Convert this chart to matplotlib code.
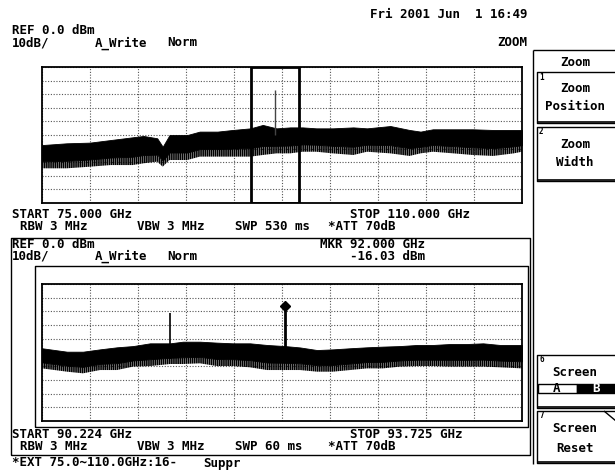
import numpy as np
import matplotlib
matplotlib.use('Agg')
import matplotlib.pyplot as plt
from matplotlib.patches import Rectangle

plt.rcParams['font.family'] = ['DejaVu Sans Mono']
plt.rcParams['font.weight'] = 'bold'
plt.rcParams['hatch.linewidth'] = 1.2

top_start, top_stop = 75.000, 110.000
top_freq = [75.0, 76.8, 78.5, 80.0, 81.6, 82.4, 83.4, 83.8, 84.3, 85.6, 86.5,
            87.8, 88.9, 90.2, 91.1, 92.1, 93.1, 94.0, 95.0, 96.2, 97.7, 98.7,
            100.4, 101.8, 102.6, 103.5, 105.0, 106.4, 107.9, 109.4, 110.0]
top_upper = [-57.4, -56.1, -55.6, -53.7, -51.7, -50.7, -52.4, -58.6, -50.0, -50.0, -47.5,
             -47.5, -46.3, -45.1, -42.6, -45.1, -44.4, -44.4, -45.1, -45.1, -44.4, -45.1,
             -43.4, -46.3, -47.5, -45.8, -45.8, -45.8, -46.3, -46.3, -46.3]
top_lower = [-74.5, -74.5, -73.3, -72.1, -72.1, -70.8, -69.6, -73.3, -68.4, -68.4, -65.9,
             -65.9, -65.9, -65.9, -64.7, -63.5, -63.5, -62.3, -62.3, -63.5, -64.7, -62.3,
             -63.5, -65.4, -63.5, -62.3, -63.5, -64.7, -65.4, -63.5, -62.3]
top_spike_freq = [92.0]
top_spike_level = [-16.9]

bot_start, bot_stop = 90.224, 93.725
bot_freq = [90.224, 90.406, 90.523, 90.647, 90.771, 90.888, 91.012, 91.158, 91.252, 91.376,
            91.500, 91.617, 91.741, 91.865, 91.996, 92.106, 92.230, 92.347, 92.471, 92.594,
            92.711, 92.835, 92.959, 93.076, 93.200, 93.324, 93.441, 93.565, 93.725]
bot_upper = [-46.9, -49.4, -49.4, -47.7, -46.2, -45.3, -43.3, -43.3, -42.1, -42.1,
             -42.8, -43.3, -43.3, -44.5, -45.3, -46.3, -48.2, -47.7, -46.9, -46.2,
             -45.7, -45.3, -44.5, -44.5, -43.8, -43.8, -43.3, -44.5, -44.5]
bot_lower = [-61.6, -64.0, -65.2, -62.8, -62.8, -60.3, -59.9, -58.4, -58.4, -57.9,
             -59.9, -59.9, -60.8, -62.8, -62.8, -62.8, -64.0, -64.0, -62.8, -61.6,
             -61.6, -60.3, -59.9, -59.9, -60.3, -60.3, -60.3, -60.8, -61.6]
bot_spike_freq = [91.158, 92.000]
bot_spike_level = [-21.4, -16.03]
mkr_freq = 92.000
mkr_level = -16.03

W, H = 615, 470
fig = plt.figure(figsize=(W / 100, H / 100), dpi=100)


def box(x0, y0, x1, y1):
    # pixel (origine in alto a sinistra) -> frazione della figura
    return [x0 / W, 1 - y1 / H, (x1 - x0) / W, (y1 - y0) / H]


# asse di sfondo in pixel per testi e cornici
bg = fig.add_axes([0, 0, 1, 1])
bg.set_xlim(0, W)
bg.set_ylim(H, 0)
bg.axis('off')


def txt(x, y, s, ha='left', size=9, color='black'):
    bg.text(x, y, s, ha=ha, va='center', fontsize=size, color=color)


def line(xs, ys, lw=1.0):
    bg.plot(xs, ys, color='black', lw=lw, solid_capstyle='butt')


# intestazione
txt(527, 15, 'Fri 2001 Jun  1 16:49', ha='right')
txt(12, 30, 'REF 0.0 dBm')
txt(12, 43, '10dB/')
txt(95, 43, 'A_Write')
txt(167, 43, 'Norm')
txt(527, 43, 'ZOOM', ha='right')
txt(12, 215, 'START 75.000 GHz')
txt(350, 215, 'STOP 110.000 GHz')
txt(20, 227, 'RBW 3 MHz')
txt(137, 227, 'VBW 3 MHz')
txt(235, 227, 'SWP 530 ms')
txt(328, 227, '*ATT 70dB')

# schermo B
line([11, 11, 530, 530, 11], [455, 238, 238, 455, 455])
line([35, 35, 528, 528, 35], [427, 266, 266, 427, 427])
txt(12, 244, 'REF 0.0 dBm')
txt(12, 256, '10dB/')
txt(95, 256, 'A_Write')
txt(167, 256, 'Norm')
txt(320, 244, 'MKR 92.000 GHz')
txt(350, 256, '-16.03 dBm')
txt(12, 435, 'START 90.224 GHz')
txt(350, 435, 'STOP 93.725 GHz')
txt(20, 447, 'RBW 3 MHz')
txt(137, 447, 'VBW 3 MHz')
txt(235, 447, 'SWP 60 ms')
txt(328, 447, '*ATT 70dB')
txt(12, 463, '*EXT 75.0~110.0GHz:16-')
txt(203, 463, 'Suppr')

# menu a destra
line([533, 533], [50, 464])
line([533, 616], [50, 50])
txt(575, 62, 'Zoom', ha='center')
for (y0, y1) in [(72, 123), (127, 181), (355, 408), (411, 463)]:
    line([616, 537, 537, 616], [y0, y0, y1, y1], lw=1.0)
    line([538, 616], [y1 - 1, y1 - 1], lw=1.2)
txt(539, 77, '1', size=5.5)
txt(575, 89, 'Zoom', ha='center')
txt(575, 107, 'Position', ha='center')
txt(539, 132, '2', size=5.5)
txt(575, 144, 'Zoom', ha='center')
txt(575, 162, 'Width', ha='center')
txt(539, 360, '6', size=5.5)
txt(575, 372, 'Screen', ha='center')
bg.add_patch(Rectangle((538, 384), 39, 9, fill=False, ec='black', lw=1.0))
bg.add_patch(Rectangle((577, 384), 39, 9, fc='black', ec='black', lw=1.0))
txt(557, 388.5, 'A', ha='center')
txt(596, 388.5, 'B', ha='center', color='white')
txt(539, 416, '7', size=5.5)
line([604, 616], [411, 421])
txt(575, 429, 'Screen', ha='center')
txt(575, 448, 'Reset', ha='center')


def setup(ax, f0, f1):
    ax.set_xlim(f0, f1)
    ax.set_ylim(-100, 0)
    ax.set_xticks(np.linspace(f0, f1, 11))
    ax.set_yticks(np.arange(-100, 1, 10))
    ax.tick_params(length=0, labelbottom=False, labelleft=False)
    ax.grid(True, color='#555555', ls=(0, (1, 1.5)), lw=0.8)
    for sp in ax.spines.values():
        sp.set_linewidth(1.3)
    ax.set_facecolor('none')


def trace(ax, f, up, lo):
    up = np.array(up)
    lo = np.array(lo)
    mid = up + 0.7 * (lo - up)
    ax.fill_between(f, up, mid, color='black', lw=0.6, zorder=3)
    ax.fill_between(f, mid, lo, facecolor='none', edgecolor='black',
                    hatch='||||||||', lw=0, zorder=3)


# schermo A
ax1 = fig.add_axes(box(42, 67, 522, 203))
setup(ax1, top_start, top_stop)
trace(ax1, top_freq, top_upper, top_lower)
ax1.vlines(top_spike_freq, -50, top_spike_level, color='#444444', lw=1.0, zorder=4)
ax1.add_patch(Rectangle((bot_start, -100), bot_stop - bot_start, 100,
                        fill=False, ec='black', lw=2.0, zorder=5))

# schermo B
ax2 = fig.add_axes(box(42, 284, 522, 421))
setup(ax2, bot_start, bot_stop)
trace(ax2, bot_freq, bot_upper, bot_lower)
ax2.vlines(bot_spike_freq[0], -55, bot_spike_level[0], color='black', lw=1.2, zorder=4)
ax2.vlines(bot_spike_freq[1], -55, bot_spike_level[1], color='black', lw=2.0, zorder=4)
ax2.plot([mkr_freq], [mkr_level], marker='D', color='black', ms=5, zorder=5)

fig.savefig('out.png', dpi=100)
